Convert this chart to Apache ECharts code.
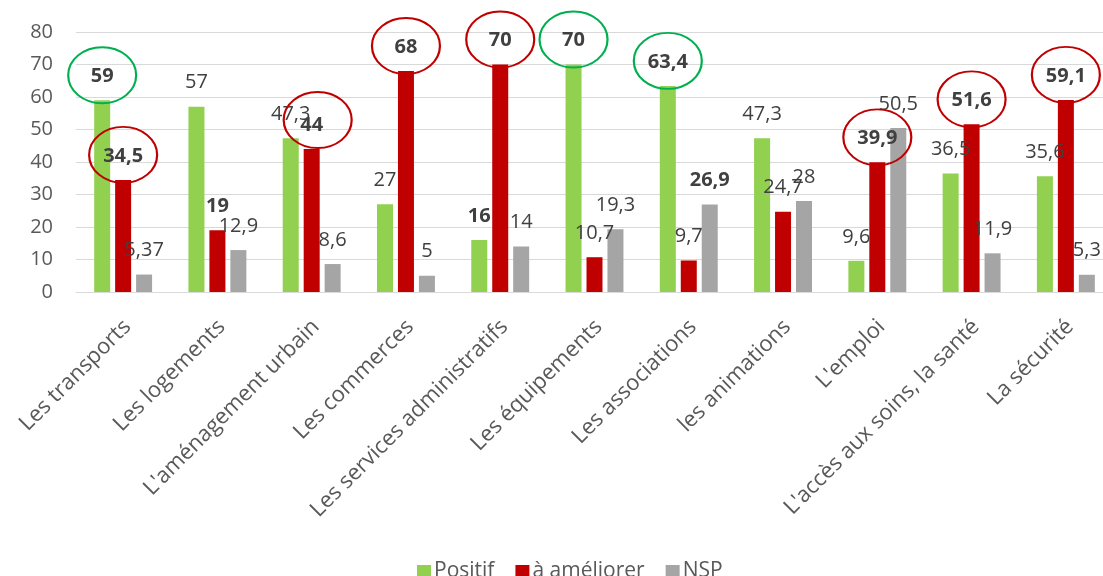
<!DOCTYPE html>
<html>
<head>
<meta charset="utf-8">
<script src="https://cdn.jsdelivr.net/npm/echarts@6/dist/echarts.min.js"></script>
<style>
html,body{margin:0;padding:0;background:#fff;}
#chart{width:1103px;height:576px;}
</style>
</head>
<body>
<div id="chart"></div>
<script>
const categories = ["Les transports", "Les logements", "L'aménagement urbain", "Les commerces", "Les services administratifs", "Les équipements", "Les associations", "les animations", "L'emploi", "L'accès aux soins, la santé", "La sécurité"];
const seriesNames = ["Positif", "à améliorer", "NSP"];
const positif = [59, 57, 47.3, 27, 16, 70, 63.4, 47.3, 9.6, 36.5, 35.6];
const aAmeliorer = [34.5, 19, 44, 68, 70, 10.7, 9.7, 24.7, 39.9, 51.6, 59.1];
const nsp = [5.37, 12.9, 8.6, 5, 14, 19.3, 26.9, 28, 50.5, 11.9, 5.3];
// emphasized labels (bold) and circled labels, by category index
const boldPositif = [0, 4, 5, 6];
const boldAmeliorer = [0, 1, 2, 3, 4, 8, 9, 10];
const boldNsp = [6];
const circledPositif = [0, 5, 6];
const circledAmeliorer = [0, 2, 3, 4, 8, 9, 10];

const FONT = "'Open Sans', sans-serif";
const colors = ['#92D050', '#C00000', '#A5A5A5'];

function mkData(vals, bold) {
  return vals.map((v, i) => bold.includes(i) ? { value: v, label: { fontWeight: 'bold' } } : v);
}
function mkMarks(vals, circled, color) {
  return {
    symbol: 'circle',
    symbolSize: [68, 56],
    symbolOffset: [0, -25],
    silent: true,
    animation: false,
    label: { show: false },
    itemStyle: { color: 'rgba(0,0,0,0)', borderColor: color, borderWidth: 2 },
    data: circled.map(i => {
      const d = { coord: [i, vals[i]] };
      if (categories[i] === "L'aménagement urbain") d.symbolOffset = [6, -29];
      return d;
    })
  };
}
const labelCfg = {
  show: true,
  position: 'top',
  distance: 14,
  fontFamily: FONT,
  fontSize: 20,
  color: '#404040',
  formatter: p => String(p.value).replace('.', ',')
};

const chart = echarts.init(document.getElementById('chart'), null, { renderer: 'canvas' });
chart.setOption({
  animation: false,
  textStyle: { fontFamily: FONT },
  color: colors,
  grid: { left: 76, width: 1037, top: 32, bottom: 284, containLabel: false, outerBoundsMode: 'none' },
  legend: {
    data: seriesNames,
    top: 556,
    left: 412,
    icon: 'rect',
    itemWidth: 14,
    itemHeight: 13,
    itemGap: 21,
    textStyle: { fontFamily: FONT, fontSize: 21, color: '#595959', padding: [0, 0, 0, -2] }
  },
  xAxis: {
    type: 'category',
    data: categories,
    axisLine: { show: true, lineStyle: { color: '#D9D9D9', width: 1 } },
    axisTick: { show: false },
    axisLabel: { interval: 0, rotate: 45, verticalAlign: 'top', align: 'right', padding: [0, 5, 0, 0], fontFamily: FONT, fontSize: 22, color: '#595959', margin: 20 }
  },
  yAxis: {
    type: 'value',
    min: 0,
    max: 80,
    interval: 10,
    axisLine: { show: false },
    axisTick: { show: false },
    splitLine: { lineStyle: { color: '#D9D9D9', width: 1 } },
    axisLabel: { fontFamily: FONT, fontSize: 20, color: '#595959', margin: 23 }
  },
  series: [
    { name: seriesNames[0], type: 'bar', barWidth: 16, barGap: '31%', data: mkData(positif, boldPositif), label: labelCfg, emphasis: { disabled: true }, markPoint: mkMarks(positif, circledPositif, '#00B050') },
    { name: seriesNames[1], type: 'bar', barWidth: 16, barGap: '31%', data: mkData(aAmeliorer, boldAmeliorer), label: labelCfg, emphasis: { disabled: true }, markPoint: mkMarks(aAmeliorer, circledAmeliorer, '#C00000') },
    { name: seriesNames[2], type: 'bar', barWidth: 16, barGap: '31%', data: mkData(nsp, boldNsp), label: labelCfg, emphasis: { disabled: true } }
  ]
});
</script>
</body>
</html>
